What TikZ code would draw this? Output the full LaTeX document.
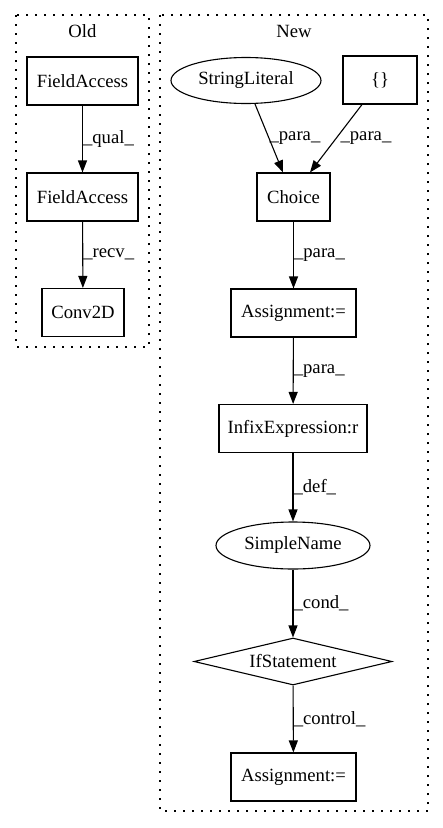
\documentclass[tikz,border=0pt]{standalone}
\usepackage{fontspec}
\setmainfont{Liberation Serif}
\usetikzlibrary{shapes.geometric,arrows.meta}
\begin{document}
\begin{tikzpicture}[x=1pt, y=-1pt, >={Triangle[length=12pt,width=9pt]}, line width=1.1pt,
    every node/.style={font=\fontsize{18.67}{22}\selectfont, inner sep=0pt},
    box/.style={draw, rectangle, minimum height=48pt},
    oval/.style={draw, ellipse, minimum height=46pt},
    lbl/.style={anchor=west},
    cluster/.style={draw, dash pattern=on 2pt off 7pt}]
    \useasboundingbox (0,0) rectangle (443,828);

    % Clusters
    \draw[cluster] (16,15) rectangle (149,347);
    \draw[cluster] (160,15) rectangle (428,811);
    \node at (82.5,31) (old) {Old};
    \node at (294,31) (new) {New};

    % Nodes
    \node[box, minimum width=111pt] at (82.5,81) (fa1) {FieldAccess};
    \node[box, minimum width=111pt] at (82.5,197) (fa2) {FieldAccess};
    \node[box, minimum width=82pt] at (83,312.5) (conv) {Conv2D};
    \node[oval, minimum width=150pt] at (246,80.5) (sl) {StringLiteral};
    \node[box, minimum width=74pt] at (380,80) (br) {\{\}};
    \node[box, minimum width=73pt] at (293.5,197) (choice) {Choice};
    \node[box, minimum width=125pt] at (293.5,313) (asg1) {Assignment:=};
    \node[box, minimum width=148pt] at (293,428.5) (infix) {InfixExpression:r};
    \node[oval, minimum width=154pt, minimum height=47pt] at (293,545.5) (sn) {SimpleName};
    \node[draw, diamond, aspect=4.2, minimum width=198pt, minimum height=47pt] at (293,661.5) (ifs) {IfStatement};
    \node[box, minimum width=125pt] at (293.5,777) (asg2) {Assignment:=};

    % Edges
    \draw[->] (fa1) -- (fa2) node[lbl, midway] {\_qual\_};
    \draw[->] (fa2) -- (conv) node[lbl, midway] {\_recv\_};
    \draw[->] ([xshift=9pt]sl.south) -- ([xshift=-10.5pt]choice.north) node[lbl, midway] {\_para\_};
    \draw[->] ([xshift=-18pt]br.south) -- ([xshift=16.5pt]choice.north) node[lbl, midway, xshift=4pt] {\_para\_};
    \draw[->] (choice) -- (asg1) node[lbl, midway] {\_para\_};
    \draw[->] (asg1) -- (infix) node[lbl, midway] {\_para\_};
    \draw[->] (infix) -- (sn) node[lbl, midway] {\_def\_};
    \draw[->] (sn) -- (ifs) node[lbl, midway] {\_cond\_};
    \draw[->] (ifs) -- (asg2) node[lbl, midway] {\_control\_};
\end{tikzpicture}
\end{document}
